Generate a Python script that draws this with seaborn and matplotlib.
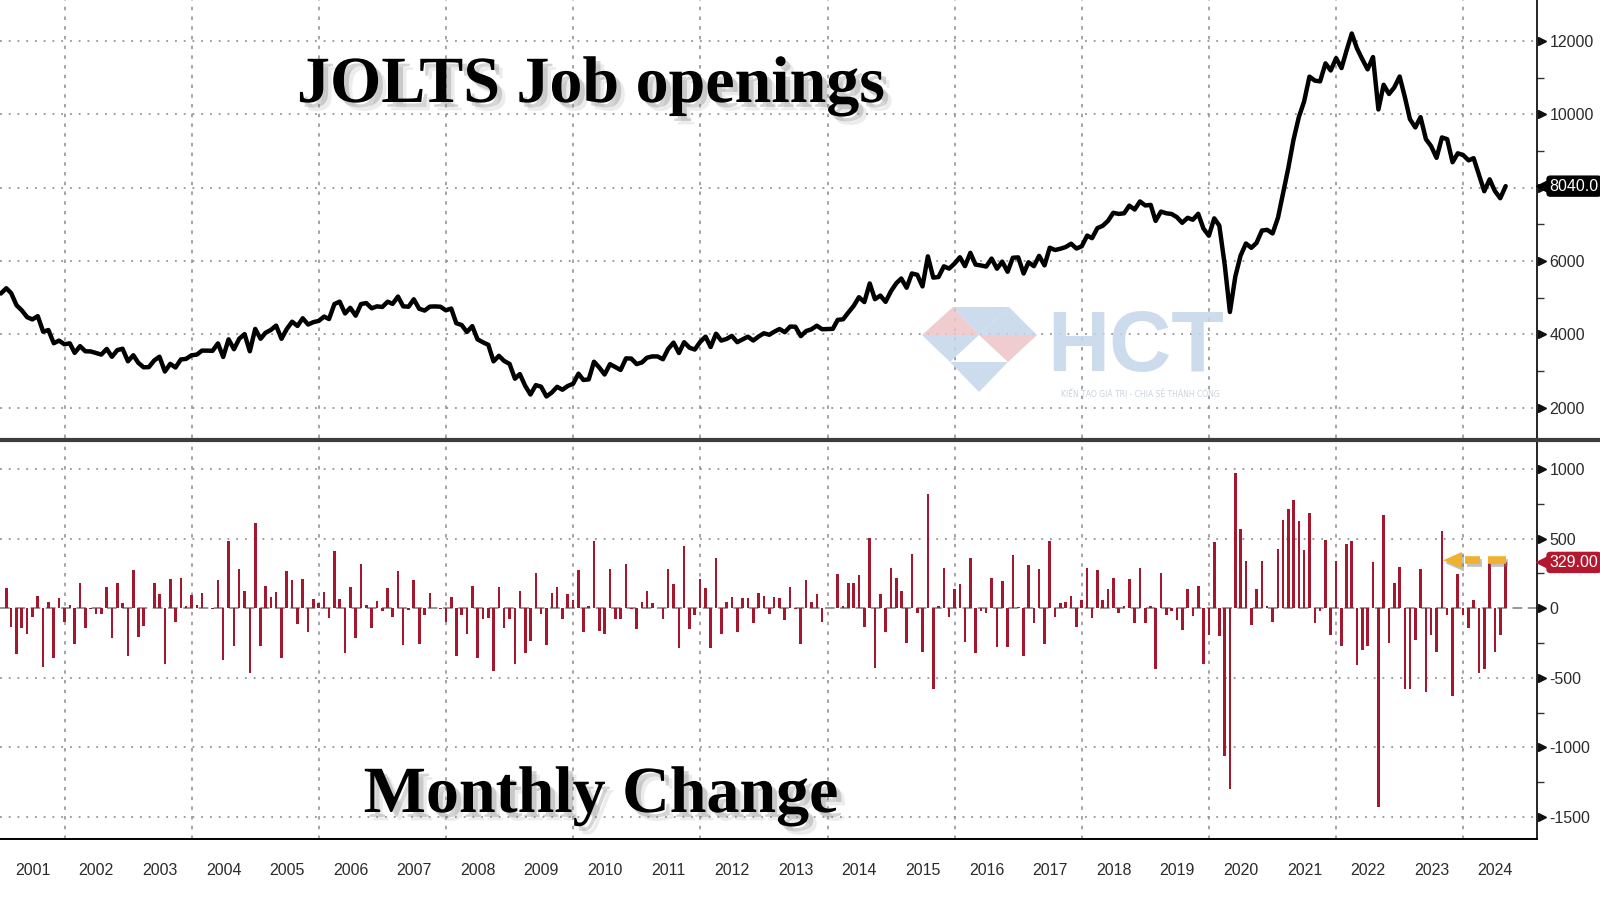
import matplotlib.pyplot as plt
import matplotlib.patheffects as pe
from matplotlib.lines import Line2D
from matplotlib.patches import Polygon
import pandas as pd
import seaborn as sns

W, H = 1600, 914

# JOLTS job openings (thousands), month-end, Dec 2000 .. Aug 2024
openings = [
    5110,
    5254, 5122, 4790, 4651, 4464, 4404, 4493, 4068, 4114, 3754, 3826, 3725,  # 2001
    3751, 3491, 3674, 3535, 3530, 3487, 3444, 3598, 3384, 3567, 3603, 3262,  # 2002
    3426, 3222, 3097, 3102, 3285, 3386, 2982, 3191, 3092, 3311, 3328, 3424,  # 2003
    3444, 3552, 3552, 3547, 3749, 3379, 3860, 3591, 3875, 4002, 3533, 4144,  # 2004
    3875, 4038, 4117, 4235, 3875, 4139, 4341, 4226, 4435, 4264, 4329, 4363,  # 2005
    4481, 4414, 4823, 4888, 4566, 4720, 4506, 4823, 4849, 4707, 4760, 4743,  # 2006
    4887, 4827, 5027, 4760, 4750, 4952, 4695, 4645, 4753, 4758, 4750, 4652,  # 2007
    4700, 4300, 4250, 4060, 4220, 3860, 3780, 3710, 3260, 3410, 3270, 3190,  # 2008
    2786, 2913, 2591, 2355, 2610, 2569, 2302, 2410, 2564, 2485, 2586, 2648,  # 2009
    2922, 2751, 2768, 3249, 3088, 2901, 3182, 3103, 3024, 3341, 3336, 3185,  # 2010
    3231, 3358, 3394, 3394, 3317, 3598, 3771, 3487, 3782, 3631, 3581, 3790,  # 2011
    3934, 3650, 4013, 3826, 3872, 3954, 3783, 3858, 3933, 3827, 3935, 4026,  # 2012
    3985, 4067, 4142, 4055, 4209, 4204, 3947, 4087, 4133, 4232, 4136, 4141,  # 2013
    4146, 4391, 4408, 4591, 4774, 5010, 4878, 5385, 4955, 5054, 4883, 5174,  # 2014
    5393, 5520, 5268, 5657, 5621, 5304, 6124, 5544, 5561, 5852, 5790, 5927,  # 2015
    6100, 5857, 6220, 5898, 5876, 5845, 6064, 5788, 5980, 5704, 6086, 6096,  # 2016
    5655, 5963, 5857, 6138, 5878, 6359, 6297, 6333, 6379, 6470, 6338, 6400,  # 2017
    6691, 6621, 6895, 6957, 7094, 7313, 7282, 7299, 7508, 7402, 7622, 7513,  # 2018
    7528, 7092, 7346, 7300, 7280, 7195, 7040, 7176, 7123, 7285, 6883, 6687,  # 2019
    7161, 6963, 5903, 4606, 5574, 6140, 6476, 6357, 6493, 6829, 6848, 6749,  # 2020
    7177, 7813, 8524, 9298, 9925, 10346, 11028, 10919, 10899, 11390, 11196, 11532,  # 2021
    11261, 11723, 12205, 11798, 11498, 11227, 11561, 10133, 10806, 10554, 10733, 11031,  # 2022
    10450, 9869, 9642, 9923, 9323, 9129, 8812, 9369, 9321, 8692, 8936, 8888,  # 2023
    8743, 8803, 8341, 7901, 8225, 7908, 7711, 8040,  # 2024
]

# month-on-month change (thousands), Jan 2001 .. Aug 2024
changes = [
    144, -132, -332, -139, -187, -60, 89, -425, 46, -360, 72, -101,  # 2001
    26, -260, 183, -139, -5, -43, -43, 154, -214, 183, 36, -341,  # 2002
    274, -204, -125, 5, 183, 101, -404, 209, -99, 219, 17, 96,  # 2003
    20, 108, 0, -5, 202, -370, 481, -269, 284, 127, -469, 611,  # 2004
    -269, 163, 79, 118, -360, 264, 202, -115, 209, -171, 65, 34,  # 2005
    118, -67, 409, 65, -322, 154, -214, 317, 26, -142, 53, -17,  # 2006
    144, -60, 264, -267, -10, 202, -257, -50, 108, 5, -8, -101,  # 2007
    82, -341, -48, -187, 163, -360, -77, -70, -452, 154, -142, -79,  # 2008
    -404, 127, -322, -236, 255, -41, -267, 108, 154, -79, 101, 62,  # 2009
    274, -171, 17, 481, -161, -187, 281, -79, -79, 317, -5, -151,  # 2010
    46, 127, 36, 0, -77, 281, 173, -284, 445, -151, -50, 209,  # 2011
    144, -284, 363, -187, 46, 82, -171, 75, 75, -106, 108, 91,  # 2012
    -41, 82, 75, -87, 154, -5, -257, 200, 46, 99, -96, 5,  # 2013
    5, 245, 17, 183, 183, 236, -132, 507, -430, 99, -171, 291,  # 2014
    219, 127, -252, 389, -36, -317, 820, -580, 17, 291, -62, 137,  # 2015
    173, -243, 363, -322, -22, -31, 219, -276, 192, -276, 382, 10,  # 2016
    -341, 308, -106, 281, -260, 481, -62, 36, 46, 91, -132, 62,  # 2017
    291, -70, 274, 62, 137, 219, -31, 17, 209, -106, 291, -109,  # 2018
    15, -436, 254, -46, -20, -85, -155, 136, -53, 162, -402, -196,  # 2019
    474, -198, -1060, -1297, 968, 566, 336, -119, 136, 336, 19, -99,  # 2020
    428, 636, 711, 774, 627, 421, 682, -109, -20, 491, -194, 336,  # 2021
    -271, 462, 482, -407, -300, -271, 334, -1428, 673, -252, 179, 298,  # 2022
    -581, -581, -227, 281, -600, -194, -317, 557, -48, -629, 244, -48,  # 2023
    -145, 60, -462, -440, 324, -317, -196, 329,  # 2024
]

year_labels = ['2001', '2002', '2003', '2004', '2005', '2006', '2007', '2008',
               '2009', '2010', '2011', '2012', '2013', '2014', '2015', '2016',
               '2017', '2018', '2019', '2020', '2021', '2022', '2023', '2024']
top_ticks = [2000, 4000, 6000, 8000, 10000, 12000]
top_labels = ['2000', '4000', '6000', '', '10000', '12000']  # 8000 hidden by tag
top_minor = [3000, 5000, 7000, 9000, 11000]
bot_ticks = [-1500, -1000, -500, 0, 500, 1000]
bot_labels = ['-1500', '-1000', '-500', '0', '500', '1000']
bot_minor = [-1250, -750, -250, 250, 750]


def fx(px):
    return px / W


def fy(py):
    return 1 - py / H


sns.set_style('white')
plt.rcParams['font.family'] = ['Liberation Sans', 'DejaVu Sans']
plt.rcParams['axes.unicode_minus'] = False
plt.rcParams['lines.scale_dashes'] = False

months = pd.date_range('2000-12-31', periods=len(openings), freq='ME')
df_lvl = pd.DataFrame({'date': months, 'openings': openings})
df_chg = pd.DataFrame({'date': months[1:], 'change': changes})

fig = plt.figure(figsize=(W / 100, H / 100), dpi=100)
ax1 = fig.add_axes([0, fy(438), fx(1537), 438 / H])
ax2 = fig.add_axes([0, fy(839), fx(1537), (839 - 442) / H])

# 1. Top panel: level of job openings
sns.lineplot(data=df_lvl, x='date', y='openings', ax=ax1,
             color='black', lw=3.2, zorder=4)

# 2. Bottom panel: monthly change
ax2.bar(df_chg['date'], df_chg['change'], width=15, color='#a3182f',
        lw=0, zorder=3)
ax2.axhline(0, color='#7a7a7a', lw=1.1, dashes=(7, 4), zorder=2)

x_lo, x_hi = pd.Timestamp('2000-12-26'), pd.Timestamp('2025-02-27')
grid_col = '#8c8c8c'
tick_font = 11.5

panels = ((ax1, top_ticks, top_labels, top_minor, (1168, 13119)),
          (ax2, bot_ticks, bot_labels, bot_minor, (-1658, 1194)))
for ax, ticks, labels, minor, lim in panels:
    ax.set_xlabel('')
    ax.set_ylabel('')
    for y in range(2002, 2025, 2):
        ax.axvline(pd.Timestamp(f'{y}-01-01'), color=grid_col, lw=1.1,
                   dashes=(2.5, 4.5), zorder=0)
    for t in ticks:
        if ax is ax2 and t == 0:
            continue
        ax.axhline(t, color=grid_col, lw=1.2, dashes=(1.3, 5), zorder=0)
    ax.yaxis.tick_right()
    ax.set_yticks(ticks)
    ax.set_yticklabels(labels)
    ax.set_yticks(minor, minor=True)
    ax.tick_params(axis='y', which='major', length=0, pad=9,
                   labelsize=tick_font, labelcolor='#2b2b2b')
    ax.tick_params(axis='y', which='minor', length=5, width=1,
                   color='#333333', direction='out')
    # small black arrow heads at the major ticks
    ax.plot([1.0035] * len(ticks), ticks, transform=ax.get_yaxis_transform(),
            ls='none', marker='>', ms=6, color='#111111', clip_on=False,
            zorder=6)
    ax.set_ylim(*lim)
    ax.set_xlim(x_lo, x_hi)
    ax.spines['top'].set_visible(False)
    ax.spines['left'].set_visible(False)
    ax.spines['right'].set_color('black')
    ax.spines['right'].set_linewidth(1.2)

ax1.spines['bottom'].set_visible(False)
ax1.tick_params(axis='x', which='both', length=0, labelbottom=False)

ax2.spines['bottom'].set_color('black')
ax2.spines['bottom'].set_linewidth(1.4)
ax2.set_xticks([pd.Timestamp(f'{y}-01-01') for y in range(2001, 2026)])
ax2.set_xticklabels([])
ax2.set_xticks([pd.Timestamp(f'{y}-07-02') for y in range(2001, 2025)],
               minor=True)
ax2.set_xticklabels(year_labels, minor=True)
ax2.tick_params(axis='x', which='major', length=31, width=1,
                color='#707070', direction='out')
ax2.tick_params(axis='x', which='minor', length=0, pad=17,
                labelsize=tick_font, labelcolor='#2b2b2b')

# 3. Last value tags on the right axis
for ax, val, txt, col in ((ax1, openings[-1], f'{openings[-1]:.1f}', 'black'),
                          (ax2, changes[-1], f'{changes[-1]:.2f}', '#b3182f')):
    ax.plot([1.0033], [val], transform=ax.get_yaxis_transform(), ls='none',
            marker='<', ms=9, color=col, clip_on=False, zorder=6)
    ax.annotate(txt, xy=(1, val), xycoords=ax.get_yaxis_transform(),
                xytext=(9, 0), textcoords='offset points', ha='left',
                va='center', color='white', fontsize=11.5,
                bbox=dict(boxstyle='round,pad=0.2,rounding_size=0.25',
                          fc=col, ec='none'),
                annotation_clip=False, zorder=7)

# 4. Yellow dashed arrow pointing at the latest bar
arrow_y = changes[-1] + 15
arrow_col = '#f0b22e'
shadow_line = [pe.SimpleLineShadow(offset=(1.5, -2), shadow_color='#777777',
                                   alpha=0.45), pe.Normal()]
for a, b in (('2024-01-10', '2024-04-05'), ('2024-05-21', months[-1])):
    ax2.plot([pd.Timestamp(a), pd.Timestamp(b)], [arrow_y, arrow_y],
             color=arrow_col, lw=5.5, solid_capstyle='butt', zorder=8,
             path_effects=shadow_line)
head_x = [pd.Timestamp('2023-09-06'), pd.Timestamp('2023-12-24'),
          pd.Timestamp('2023-12-24')]
head = Polygon([[ax2.convert_xunits(head_x[0]), arrow_y],
                [ax2.convert_xunits(head_x[1]), arrow_y + 60],
                [ax2.convert_xunits(head_x[2]), arrow_y - 60]],
               closed=True, fc=arrow_col, ec='none', zorder=8,
               path_effects=[pe.SimplePatchShadow(offset=(1.5, -2),
                                                  shadow_rgbFace='#777777',
                                                  alpha=0.45), pe.Normal()])
ax2.add_patch(head)

# 5. Panel separator
fig.add_artist(Line2D([0, 1], [fy(440), fy(440)], transform=fig.transFigure,
                      color='#3d3d3d', lw=3))

# 6. Titles with a soft drop shadow
shadow = [pe.SimplePatchShadow(offset=(6, -6), shadow_rgbFace='#999999',
                               alpha=0.18),
          pe.SimplePatchShadow(offset=(3.5, -3.5), shadow_rgbFace='#888888',
                               alpha=0.35),
          pe.Normal()]
fig.text(fx(591), fy(102), 'JOLTS Job openings', ha='center', va='baseline',
         family='Liberation Serif', weight='bold', size=47.5, color='black',
         path_effects=shadow)
fig.text(fx(601), fy(812), 'Monthly Change', ha='center', va='baseline',
         family='Liberation Serif', weight='bold', size=47.5, color='black',
         path_effects=shadow)

# 7. Faint watermark
blue, pink = '#c3d6ea', '#edc3c5'
logo = [
    ([(922, 335), (953, 307), (979, 335)], pink),
    ([(953, 307), (1009, 307), (979, 335)], blue),
    ([(979, 335), (1009, 307), (1037, 335)], blue),
    ([(922, 335), (979, 335), (950, 362)], blue),
    ([(979, 335), (1037, 335), (1008, 362)], pink),
    ([(950, 362), (1008, 362), (979, 392)], blue),
]
for pts, col in logo:
    ax1.add_patch(Polygon([(fx(x), fy(y)) for x, y in pts], closed=True,
                          transform=fig.transFigure, fc=col, ec='none',
                          alpha=0.85, zorder=1))
ax1.text(fx(1047), fy(371), 'HCT', transform=fig.transFigure, ha='left',
         va='baseline', family='Liberation Sans', weight='bold', size=62,
         color=blue, alpha=0.85, zorder=1)
ax1.text(fx(1140), fy(393), 'KIẾN TẠO GIÁ TRỊ - CHIA SẺ THÀNH CÔNG',
         transform=fig.transFigure, ha='center', va='center',
         family='DejaVu Sans', size=5.5, color='#c9d3dd', zorder=1)

fig.savefig('out.png', dpi=100)
